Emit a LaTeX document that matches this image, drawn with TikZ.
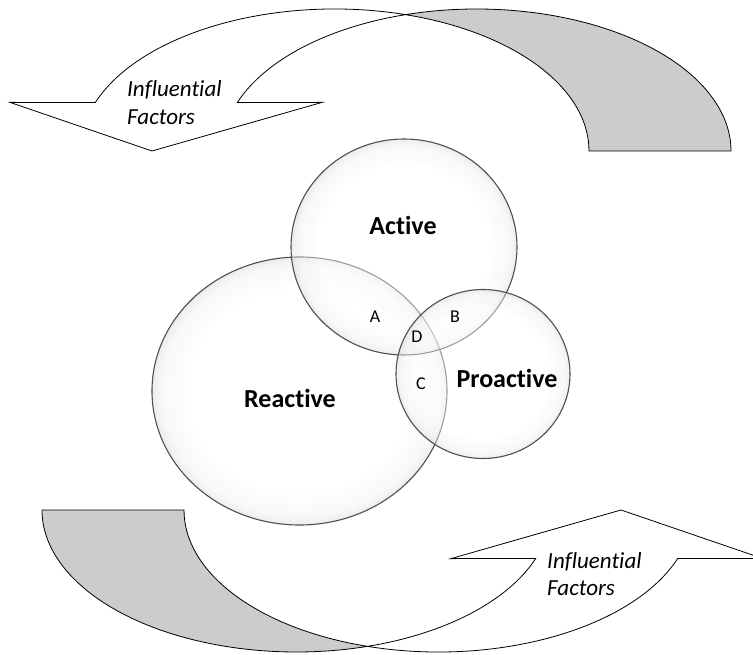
\documentclass[tikz,border=0pt]{standalone}
\usepackage{fontspec}
\setmainfont{Carlito}[Ligatures=NoCommon]
\usetikzlibrary{shapes.geometric}
\definecolor{ribbongray}{RGB}{204,204,204}
\definecolor{circlegray}{RGB}{80,80,80}
\pgfdeclareradialshading{rimglow}{\pgfpoint{0bp}{0bp}}{%
  color(0bp)=(white); color(19bp)=(white); color(23.5bp)=(black!6);
  color(25bp)=(black!16); color(50bp)=(black!16)}
\newcommand\influentialarrow{%
  \path[ribbon] ([shift={(476.5,151)}]253.8:254.5 and 142)
    arc[start angle=253.8, end angle=360, x radius=254.5, y radius=142]
    -- (589,151)
    arc[start angle=0, end angle=-73.8, x radius=254.5, y radius=142] -- cycle;
  \path[front] ([shift={(334.5,151)}]286.2:254.5 and 142)
    arc[start angle=286.2, end angle=200, x radius=254.5, y radius=142]
    -- (10,102.4) -- (152,151) -- (322,102.4)
    -- ([shift={(476.5,151)}]200:254.5 and 142)
    arc[start angle=200, end angle=253.8, x radius=254.5, y radius=142] -- cycle;
}
\begin{document}
\begin{tikzpicture}[x=1pt,y=-1pt,
  arrowline/.style={draw=black, line width=0.8pt, line join=miter},
  ribbon/.style={arrowline, fill=ribbongray},
  front/.style={arrowline, fill=white},
  setcircle/.style={ellipse, draw=circlegray, line width=1.1pt, inner sep=0pt,
    shading=rimglow, fill opacity=0.45},
  biglabel/.style={font=\fontsize{26}{31}\selectfont\bfseries, inner sep=0pt},
  smalllabel/.style={font=\fontsize{18}{22}\selectfont, inner sep=0pt},
  factortext/.style={font=\fontsize{23}{28}\selectfont\itshape, inner sep=0pt, anchor=base west}]
\useasboundingbox (0,0) rectangle (753,655);
\clip (0,0) rectangle (753,655);
\fill[white] (0,0) rectangle (753,655);

% curved arrows
\influentialarrow
\begin{scope}[rotate around={180:(386.5,330.5)}]
  \influentialarrow
\end{scope}

\node[factortext] (topinf) at (127,96.7) {Influential};
\node[factortext] (topfac) at (127,125) {Factors};
\node[factortext] (botinf) at (547,568) {Influential};
\node[factortext] (botfac) at (547,595.5) {Factors};

% sets
\node[setcircle, minimum width=295pt, minimum height=268pt] (reactive) at (299.5,391) {};
\node[setcircle, minimum width=226pt, minimum height=216pt] (active) at (404,247) {};
\node[setcircle, minimum width=174pt, minimum height=169pt] (proactive) at (483,374) {};

\node[biglabel] (activelbl) at (403,225) {Active};
\node[biglabel] (reactivelbl) at (290,398) {Reactive};
\node[biglabel] (proactivelbl) at (507,378) {Proactive};

\node[smalllabel] (la) at (375,317) {A};
\node[smalllabel] (lb) at (455,317) {B};
\node[smalllabel] (ld) at (417,337) {D};
\node[smalllabel] (lc) at (421,384) {C};
\end{tikzpicture}
\end{document}
